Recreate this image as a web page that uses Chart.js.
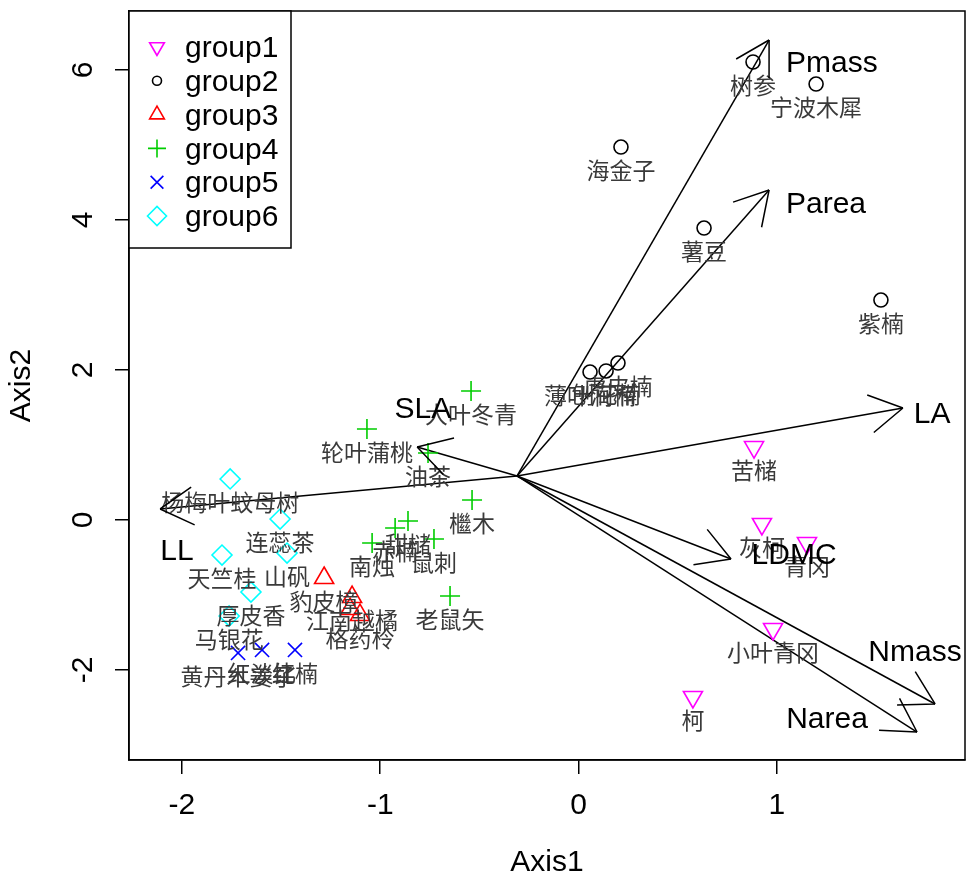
<!DOCTYPE html>
<html>
<head>
<meta charset="utf-8">
<script src="https://cdn.jsdelivr.net/npm/chart.js@4.4.0/dist/chart.umd.min.js"></script>
<style>
  html, body { margin: 0; padding: 0; background: #fff; }
  #wrap { width: 966px; height: 883px; }
</style>
</head>
<body>
<div id="wrap"><canvas id="biplot" width="966" height="883"></canvas></div>
<script>
// species scores, one set of arrays per group
const g1Names = ['苦槠', '灰柯', '青冈', '小叶青冈', '柯'];
const g1X = [0.885, 0.925, 1.152, 0.981, 0.577];
const g1Y = [0.973, -0.053, -0.307, -1.453, -2.36];

const g2Names = ['树参', '宁波木犀', '海金子', '薯豆', '紫楠', '薄叶润楠', '刨花楠', '虎皮楠'];
const g2X = [0.880, 1.198, 0.214, 0.633, 1.525, 0.058, 0.139, 0.199];
const g2Y = [6.107, 5.813, 4.973, 3.893, 2.933, 1.973, 1.987, 2.093];

const g3Names = ['豹皮樟', '江南越橘', '', '格药柃'];
const g3X = [-1.283, -1.142, -1.152, -1.102];
const g3Y = [-0.773, -1.027, -1.187, -1.267];

const g4Names = ['大叶冬青', '轮叶蒲桃', '油茶', '檵木', '甜槠', '赤楠', '鼠刺', '南烛', '老鼠矢'];
const g4X = [-0.542, -1.067, -0.759, -0.537, -0.86, -0.925, -0.729, -1.041, -0.648];
const g4Y = [1.72, 1.213, 0.893, 0.267, -0.013, -0.107, -0.253, -0.307, -1.013];

const g5Names = ['黄丹木姜子', '红淡比', '红楠'];
const g5X = [-1.717, -1.596, -1.43];
const g5Y = [-1.773, -1.733, -1.733];

const g6Names = ['杨梅叶蚊母树', '连蕊茶', '天竺桂', '山矾', '厚皮香', '马银花'];
const g6X = [-1.757, -1.505, -1.798, -1.47, -1.652, -1.762];
const g6Y = [0.547, 0.013, -0.467, -0.44, -0.96, -1.28];

// trait vectors
const arrowOrigin = [-0.31, 0.587];
const arrowNames = ['Pmass', 'Parea', 'LA', 'LDMC', 'Nmass', 'Narea', 'SLA', 'LL'];
const arrowX = [0.961, 0.961, 1.636, 0.769, 1.798, 1.707, -0.814, -2.11];
const arrowY = [6.40, 4.40, 1.493, -0.52, -2.453, -2.827, 0.973, 0.147];
const arrowLabelX = [1.278, 1.248, 1.783, 1.087, 1.697, 1.253, -0.785, -2.025];
const arrowLabelY = [6.09, 4.2, 1.4, -0.47, -1.77, -2.667, 1.467, -0.427];

const groupLabels = ['group1', 'group2', 'group3', 'group4', 'group5', 'group6'];

// marker styles (R pch 6, 1, 2, 3, 4, 5)
const groups = [
  { names: g1Names, x: g1X, y: g1Y, color: '#ff00ff', style: 'triangle', rot: 180, r: 11, lr: 8.5 },
  { names: g2Names, x: g2X, y: g2Y, color: '#000000', style: 'circle', rot: 0, r: 7, lr: 4.5 },
  { names: g3Names, x: g3X, y: g3Y, color: '#ff0000', style: 'triangle', rot: 0, r: 11, lr: 8.5 },
  { names: g4Names, x: g4X, y: g4Y, color: '#00cd00', style: 'cross', rot: 0, r: 10, lr: 9 },
  { names: g5Names, x: g5X, y: g5Y, color: '#0000ff', style: 'crossRot', rot: 0, r: 10, lr: 9 },
  { names: g6Names, x: g6X, y: g6Y, color: '#00ffff', style: 'rectRot', rot: 0, r: 10, lr: 9.5 }
];

const pointSets = groups.map((g, k) => ({
  label: groupLabels[k],
  data: g.x.map((v, i) => ({ x: v, y: g.y[i] })),
  pointStyle: g.style,
  pointRotation: g.rot,
  pointRadius: g.r,
  pointBorderColor: g.color,
  pointBackgroundColor: 'rgba(0,0,0,0)',
  pointBorderWidth: 1.6,
  showLine: false
}));

const arrowSets = arrowNames.map((n, i) => ({
  label: n,
  data: [{ x: arrowOrigin[0], y: arrowOrigin[1] }, { x: arrowX[i], y: arrowY[i] }],
  showLine: true,
  borderColor: '#000',
  borderWidth: 1.5,
  pointRadius: 0,
  pointHoverRadius: 0
}));

// labels, arrow heads, box and legend
const biplotExtras = {
  id: 'biplotExtras',
  afterDatasetsDraw(chart) {
    const { ctx, chartArea: a, scales: { x, y } } = chart;
    ctx.save();

    ctx.font = '23px "Noto Sans CJK SC"';
    ctx.fillStyle = '#3a3a3a';
    ctx.textAlign = 'center';
    ctx.textBaseline = 'middle';
    groups.forEach(g => g.names.forEach((n, i) => {
      ctx.fillText(n, x.getPixelForValue(g.x[i]), y.getPixelForValue(g.y[i]) + 23);
    }));

    const ox = x.getPixelForValue(arrowOrigin[0]);
    const oy = y.getPixelForValue(arrowOrigin[1]);
    ctx.strokeStyle = '#000';
    ctx.lineWidth = 1.5;
    arrowNames.forEach((n, i) => {
      const tx = x.getPixelForValue(arrowX[i]);
      const ty = y.getPixelForValue(arrowY[i]);
      const ang = Math.atan2(oy - ty, ox - tx);
      ctx.beginPath();
      [-Math.PI / 6, Math.PI / 6].forEach(d => {
        ctx.moveTo(tx, ty);
        ctx.lineTo(tx + 38 * Math.cos(ang + d), ty + 38 * Math.sin(ang + d));
      });
      ctx.stroke();
    });

    ctx.font = '30px "Liberation Sans", Arial, sans-serif';
    ctx.fillStyle = '#000';
    arrowNames.forEach((n, i) => {
      ctx.fillText(n, x.getPixelForValue(arrowLabelX[i]), y.getPixelForValue(arrowLabelY[i]));
    });

    ctx.strokeRect(a.left, a.top, a.right - a.left, a.bottom - a.top);

    // legend in the top-left corner
    ctx.fillStyle = '#fff';
    ctx.fillRect(a.left, a.top, 162, 237);
    ctx.strokeRect(a.left, a.top, 162, 237);
    ctx.textAlign = 'left';
    groups.forEach((g, k) => {
      const ry = a.top + 36 + k * 33.8;
      ctx.strokeStyle = g.color;
      ctx.fillStyle = 'rgba(0,0,0,0)';
      ctx.lineWidth = 1.6;
      Chart.helpers.drawPoint(ctx, { pointStyle: g.style, rotation: g.rot, radius: g.lr, borderWidth: 1.6 }, a.left + 28, ry);
      ctx.fillStyle = '#000';
      ctx.fillText(groupLabels[k], a.left + 56, ry + 2);
    });

    ctx.restore();
  }
};

const axisFont = { family: '"Liberation Sans", Arial, sans-serif', size: 30 };

// keep the plot box fixed, without label overhang padding
function fixX(s) {
  s.height = 123;
  s.paddingLeft = 0; s.paddingRight = 0;
}
function fixY(s) {
  s.width = 129;
  s.paddingTop = 0; s.paddingBottom = 0;
}

new Chart(document.getElementById('biplot'), {
  type: 'scatter',
  data: { datasets: pointSets.concat(arrowSets) },
  options: {
    responsive: false,
    animation: false,
    devicePixelRatio: 1,
    layout: { autoPadding: false, padding: { top: 11, right: 1, left: 0, bottom: 0 } },
    plugins: { legend: { display: false }, tooltip: { enabled: false } },
    scales: {
      x: {
        type: 'linear',
        min: -2.267,
        max: 1.949,
        afterFit: fixX,
        ticks: { stepSize: 1, includeBounds: false, color: '#000', font: axisFont, padding: 14 },
        grid: { drawOnChartArea: false, drawTicks: true, tickLength: 14, color: '#000', lineWidth: 1.5 },
        border: { display: true, color: '#000', width: 1.5 },
        title: { display: true, text: 'Axis1', color: '#000', font: axisFont, padding: { top: 0, bottom: 2 } }
      },
      y: {
        type: 'linear',
        min: -3.2,
        max: 6.787,
        afterFit: fixY,
        ticks: { stepSize: 2, includeBounds: false, color: '#000', font: axisFont, padding: 18,
                 minRotation: 90, maxRotation: 90, crossAlign: 'center' },
        grid: { drawOnChartArea: false, drawTicks: true, tickLength: 14, color: '#000', lineWidth: 1.5 },
        border: { display: true, color: '#000', width: 1.5 },
        title: { display: true, text: 'Axis2', color: '#000', font: axisFont, padding: { top: 4, bottom: 0 } }
      }
    }
  },
  plugins: [biplotExtras]
});
</script>
</body>
</html>
